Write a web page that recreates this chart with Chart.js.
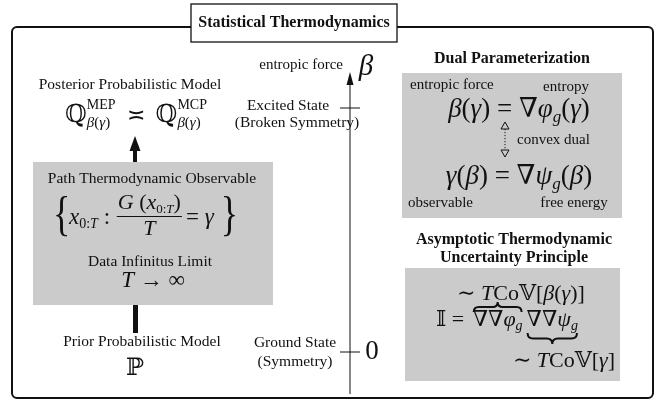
<!DOCTYPE html>
<html>
<head>
<meta charset="utf-8">
<script src="https://cdn.jsdelivr.net/npm/chart.js@4"></script>
<style>
  body { margin: 0; background: #fff; }
  canvas { display: block; }
</style>
</head>
<body>
<canvas id="thermoChart" width="662" height="410"></canvas>
<script>
// ---- data ----
const titleText = 'Statistical Thermodynamics';
const modelLabels = ['Prior Probabilistic Model', 'Posterior Probabilistic Model'];
const boxLabels = ['Path Thermodynamic Observable', 'Data Infinitus Limit'];
const betaStates = [0, 1];              // ground, excited
const stateNames = [['Ground State', '(Symmetry)'], ['Excited State', '(Broken Symmetry)']];
const stateTicks = ['0', ''];
const axisLabels = ['entropic force', '\u03B2'];
const dualTitle = 'Dual Parameterization';
const dualLabels = ['entropic force', 'entropy', 'convex dual', 'observable', 'free energy'];
const uncertaintyTitle = ['Asymptotic Thermodynamic', 'Uncertainty Principle'];

// beta scale: 0 -> ground state, 1 -> excited state
const betaMin = -58 / 244;
const betaMax = betaMin + 410 / 244;
const AXIS_X = 350;

const FAM = '"Liberation Serif", "DejaVu Serif", serif';
function font(size, style) { return (style || '') + ' ' + size + 'px ' + FAM; }

function segWidth(ctx, g) {
    if (g.stack) return Math.max(...g.stack.map(r => runWidth(ctx, r)));
    ctx.font = font(g.s, g.st);
    return ctx.measureText(g.t).width + (g.pad || 0);
}
function runWidth(ctx, segs) {
    return segs.reduce((a, g) => a + segWidth(ctx, g), 0);
}
function drawSegs(ctx, x, base, segs) {
    segs.forEach(g => {
        const w = segWidth(ctx, g);
        if (g.stack) {
            g.stack.forEach((r, i) => drawSegs(ctx, x, base + g.dys[i], r));
        } else {
            ctx.font = font(g.s, g.st);
            ctx.fillText(g.t, x, base + (g.dy || 0));
        }
        x += w;
    });
    return x;
}
function drawRun(ctx, x, base, segs, align) {
    const w = runWidth(ctx, segs);
    const x0 = align === 'center' ? x - w / 2 : align === 'right' ? x - w : x;
    ctx.textAlign = 'left';
    ctx.textBaseline = 'alphabetic';
    drawSegs(ctx, x0, base, segs);
    return { x: x0, w: w };
}
function text(ctx, t, x, y, size, style, align) {
    ctx.font = font(size, style);
    ctx.textAlign = align || 'center';
    ctx.textBaseline = 'middle';
    ctx.fillText(t, x, y);
}
function hBrace(ctx, x1, x2, y, h, dir) {
    const m = (x1 + x2) / 2, r = h / 2;
    ctx.beginPath();
    ctx.moveTo(x1, y);
    ctx.quadraticCurveTo(x1, y + dir * r, x1 + r, y + dir * r);
    ctx.lineTo(m - r, y + dir * r);
    ctx.quadraticCurveTo(m, y + dir * r, m, y + dir * h);
    ctx.quadraticCurveTo(m, y + dir * r, m + r, y + dir * r);
    ctx.lineTo(x2 - r, y + dir * r);
    ctx.quadraticCurveTo(x2, y + dir * r, x2, y);
    ctx.stroke();
}
function roundRect(ctx, x1, y1, x2, y2, r) {
    ctx.beginPath();
    ctx.moveTo(x1 + r, y1);
    ctx.arcTo(x2, y1, x2, y2, r);
    ctx.arcTo(x2, y2, x1, y2, r);
    ctx.arcTo(x1, y2, x1, y1, r);
    ctx.arcTo(x1, y1, x2, y1, r);
    ctx.closePath();
}

const diagramPlugin = {
    id: 'diagram',
    beforeDatasetsDraw(chart) {
        const ctx = chart.ctx;
        const xs = chart.scales.x, ys = chart.scales.y, bs = chart.scales.beta;
        const X = v => xs.getPixelForValue(v), Y = v => ys.getPixelForValue(v);
        ctx.save();
        ctx.fillStyle = '#111';
        ctx.strokeStyle = '#111';

        // outer frame
        ctx.lineWidth = 2;
        roundRect(ctx, X(12), Y(27), X(653), Y(398), 5);
        ctx.stroke();

        // title
        ctx.fillStyle = '#fff';
        ctx.fillRect(X(191), Y(4), X(397) - X(191), Y(42) - Y(4));
        ctx.lineWidth = 1.3;
        ctx.strokeRect(X(191), Y(4), X(397) - X(191), Y(42) - Y(4));
        ctx.fillStyle = '#111';
        text(ctx, titleText, X(294), Y(23), 16, 'bold');

        // grey boxes
        ctx.fillStyle = '#cbcbcb';
        ctx.fillRect(X(33), Y(162), X(273) - X(33), Y(305) - Y(162));
        ctx.fillRect(X(402), Y(73), X(622) - X(402), Y(218) - Y(73));
        ctx.fillRect(X(405), Y(268), X(620) - X(405), Y(381) - Y(268));
        ctx.fillStyle = '#111';

        // ---- left column ----
        text(ctx, modelLabels[1], X(130), Y(85), 15.5);
        const sub = s => [{ t: '\u03B2', s: s, st: 'italic' }, { t: '(', s: s }, { t: '\u03B3', s: s, st: 'italic' }, { t: ')', s: s }];
        drawRun(ctx, X(136), Y(122), [
            { t: '\u211A', s: 25 },
            { stack: [[{ t: 'MEP', s: 14 }], sub(15)], dys: [-13, 5] },
            { t: '  \u224D  ', s: 22 },
            { t: '\u211A', s: 25 },
            { stack: [[{ t: 'MCP', s: 14 }], sub(15)], dys: [-13, 5] }
        ], 'center');

        // arrow up from box
        ctx.fillRect(X(133), Y(148), 4, Y(162) - Y(148));
        ctx.beginPath();
        ctx.moveTo(X(135), Y(136));
        ctx.lineTo(X(129.5), Y(151));
        ctx.lineTo(X(140.5), Y(151));
        ctx.closePath();
        ctx.fill();

        text(ctx, boxLabels[0], X(152), Y(179), 15.5);

        // { x_{0:T} : G(x_{0:T}) / T = gamma }
        ctx.font = font(48);
        ctx.textAlign = 'left';
        ctx.textBaseline = 'middle';
        ctx.save();
        ctx.translate(X(53), Y(217));
        ctx.scale(0.75, 1);
        ctx.fillText('{', 0, 0);
        ctx.restore();
        const xs0 = drawRun(ctx, X(69), Y(224), [
            { t: 'x', s: 23, st: 'italic' },
            { t: '0:', s: 14, dy: 4 }, { t: 'T', s: 14, st: 'italic', dy: 4 },
            { t: ' : ', s: 23 }
        ], 'left');
        const num = [
            { t: 'G', s: 22, st: 'italic' }, { t: ' (', s: 22 }, { t: 'x', s: 22, st: 'italic' },
            { t: '0:', s: 13, dy: 4 }, { t: 'T', s: 13, st: 'italic', dy: 4 }, { t: ')', s: 22 }
        ];
        const fx = xs0.x + xs0.w + 2;
        const nw = runWidth(ctx, num);
        drawRun(ctx, fx + nw / 2, Y(209), num, 'center');
        ctx.lineWidth = 1;
        ctx.beginPath();
        ctx.moveTo(fx - 1, Y(216.5));
        ctx.lineTo(fx + nw + 1, Y(216.5));
        ctx.stroke();
        drawRun(ctx, fx + nw / 2, Y(235), [{ t: 'T', s: 22, st: 'italic' }], 'center');
        const eq = drawRun(ctx, fx + nw + 5, Y(224), [{ t: '= ', s: 23 }, { t: '\u03B3', s: 23, st: 'italic' }], 'left');
        ctx.font = font(48);
        ctx.textBaseline = 'middle';
        ctx.save();
        ctx.translate(eq.x + eq.w + 7, Y(217));
        ctx.scale(0.75, 1);
        ctx.fillText('}', 0, 0);
        ctx.restore();

        text(ctx, boxLabels[1], X(150), Y(262), 15.5);
        drawRun(ctx, X(153), Y(287), [{ t: 'T', s: 23, st: 'italic' }, { t: ' \u2192 \u221E', s: 23 }], 'center');

        // thick connector to prior
        ctx.fillRect(X(133), Y(305), 5, Y(333) - Y(305));
        text(ctx, modelLabels[0], X(142), Y(342), 15.5);
        text(ctx, '\u2119', X(135), Y(369), 24);

        // ---- beta axis ----
        ctx.lineWidth = 1;
        ctx.beginPath();
        ctx.moveTo(X(AXIS_X), Y(394));
        ctx.lineTo(X(AXIS_X), Y(82));
        ctx.stroke();
        ctx.beginPath();
        ctx.moveTo(X(AXIS_X), Y(72));
        ctx.lineTo(X(AXIS_X - 3.5), Y(85));
        ctx.lineTo(X(AXIS_X + 3.5), Y(85));
        ctx.closePath();
        ctx.fill();
        text(ctx, axisLabels[0], X(343), Y(65), 15, '', 'right');
        text(ctx, axisLabels[1], X(366), Y(67), 29, 'italic');

        betaStates.forEach((b, i) => {
            const py = bs.getPixelForValue(b);
            text(ctx, stateNames[i][0], X(i ? 288 : 295), py - (i ? 2 : 9), 15.5);
            text(ctx, stateNames[i][1], X(i ? 297 : 295), py + (i ? 15 : 10), 15.5);
            if (stateTicks[i]) text(ctx, stateTicks[i], X(372), py, 27);
        });

        // ---- dual parameterization ----
        text(ctx, dualTitle, X(512), Y(59), 16, 'bold');
        text(ctx, dualLabels[0], X(410), Y(85), 15, '', 'left');
        text(ctx, dualLabels[1], X(566), Y(87), 15);
        const g = (t, st) => ({ t: t, s: 27, st: st });
        drawRun(ctx, X(519), Y(117), [
            g('\u03B2', 'italic'), g('('), g('\u03B3', 'italic'), g(') = \u2207'), g('\u03C6', 'italic'),
            { t: 'g', s: 17, st: 'italic', dy: 5 }, g('('), g('\u03B3', 'italic'), g(')')
        ], 'center');
        drawRun(ctx, X(519), Y(184), [
            g('\u03B3', 'italic'), g('('), g('\u03B2', 'italic'), g(') = \u2207'), g('\u03C8', 'italic'),
            { t: 'g', s: 17, st: 'italic', dy: 5 }, g('('), g('\u03B2', 'italic'), g(')')
        ], 'center');
        // dotted double arrow
        ctx.setLineDash([1.2, 1.8]);
        ctx.beginPath();
        ctx.moveTo(X(505), Y(129));
        ctx.lineTo(X(505), Y(150));
        ctx.stroke();
        ctx.setLineDash([]);
        ctx.lineWidth = 1;
        ctx.beginPath();
        ctx.moveTo(X(505), Y(122)); ctx.lineTo(X(501), Y(129)); ctx.lineTo(X(509), Y(129)); ctx.closePath();
        ctx.stroke();
        ctx.beginPath();
        ctx.moveTo(X(505), Y(157)); ctx.lineTo(X(501), Y(150)); ctx.lineTo(X(509), Y(150)); ctx.closePath();
        ctx.stroke();
        text(ctx, dualLabels[2], X(517), Y(140), 15, '', 'left');
        text(ctx, dualLabels[3], X(408), Y(203), 15, '', 'left');
        text(ctx, dualLabels[4], X(574), Y(203), 15);

        // ---- uncertainty principle ----
        text(ctx, uncertaintyTitle[0], X(514), Y(240), 16, 'bold');
        text(ctx, uncertaintyTitle[1], X(514), Y(258), 16, 'bold');
        const h = (t, st) => ({ t: t, s: 22, st: st });
        drawRun(ctx, X(521), Y(300), [
            h('\u223C '), h('T', 'italic'), h('Co\uD835\uDD4D['), h('\u03B2', 'italic'), h('('), h('\u03B3', 'italic'), h(')]')
        ], 'center');
        const lhs = drawRun(ctx, X(436), Y(326), [h('\uD835\uDD40 = ', '')], 'left');
        const a = drawRun(ctx, lhs.x + lhs.w + 3, Y(326), [h('\u2207\u2207'), h('\u03C6', 'italic'), { t: 'g', s: 14, st: 'italic', dy: 4 }], 'left');
        const b2 = drawRun(ctx, a.x + a.w + 4, Y(326), [h('\u2207\u2207'), h('\u03C8', 'italic'), { t: 'g', s: 14, st: 'italic', dy: 4 }], 'left');
        ctx.lineWidth = 2;
        hBrace(ctx, a.x + 1, a.x + a.w - 1, Y(312), 10, -1);
        hBrace(ctx, b2.x + 1, b2.x + b2.w - 1, Y(333), 11, 1);
        drawRun(ctx, X(564), Y(367), [h('\u223C '), h('T', 'italic'), h('Co\uD835\uDD4D['), h('\u03B3', 'italic'), h(']')], 'center');

        ctx.restore();
    }
};

const ctx = document.getElementById('thermoChart');
new Chart(ctx, {
    type: 'scatter',
    data: {
        datasets: [{
            label: 'state ticks',
            data: betaStates.map(b => ({ x: AXIS_X, y: b })),
            yAxisID: 'beta',
            pointStyle: 'line',
            radius: 10,
            borderColor: '#111',
            borderWidth: 1
        }]
    },
    options: {
        responsive: false,
        animation: false,
        devicePixelRatio: 1,
        layout: { padding: 0, autoPadding: false },
        scales: {
            x: { type: 'linear', min: 0, max: 662, display: false },
            y: { type: 'linear', min: 0, max: 410, reverse: true, display: false },
            beta: { type: 'linear', min: betaMin, max: betaMax, display: false }
        },
        plugins: {
            legend: { display: false },
            tooltip: { enabled: false }
        }
    },
    plugins: [diagramPlugin]
});
</script>
</body>
</html>
